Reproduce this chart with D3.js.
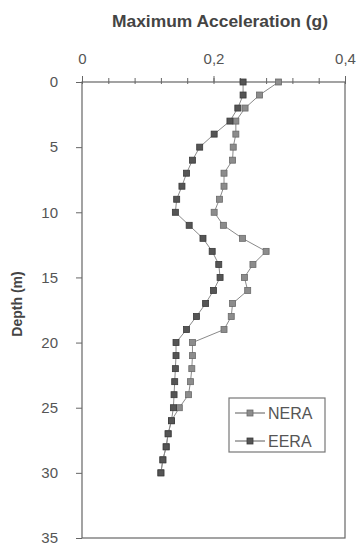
<!DOCTYPE html>
<html>
<head>
<meta charset="utf-8">
<script src="https://cdn.jsdelivr.net/npm/d3@7"></script>
<style>
  html, body { margin: 0; padding: 0; background: #fff; }
  svg { display: block; }
</style>
</head>
<body>
<svg id="chart" width="358" height="550"></svg>
<script>
// Depth profile of peak ground acceleration from two site-response codes
const depths = [0, 1, 2, 3, 4, 5, 6, 7, 8, 9, 10, 11, 12, 13, 14, 15, 16, 17, 18, 19, 20,
                21, 22, 23, 24, 25, 26, 27, 28, 29, 30];
const neraValues = [0.299, 0.270, 0.248, 0.234, 0.234, 0.230, 0.229, 0.216, 0.216, 0.209, 0.201,
                    0.215, 0.244, 0.280, 0.260, 0.247, 0.252, 0.229, 0.227, 0.216, 0.168,
                    0.168, 0.167, 0.165, 0.162, 0.148, 0.136, 0.131, 0.128, 0.123, 0.120];
const eeraValues = [0.245, 0.245, 0.237, 0.225, 0.201, 0.179, 0.168, 0.159, 0.152, 0.144, 0.142,
                    0.163, 0.184, 0.198, 0.208, 0.210, 0.200, 0.188, 0.174, 0.159, 0.143,
                    0.143, 0.142, 0.141, 0.140, 0.139, 0.136, 0.131, 0.128, 0.123, 0.120];
const xTickValues = [0, 0.2, 0.4];
const xTickLabels = ["0", "0,2", "0,4"];
const yTickValues = [0, 5, 10, 15, 20, 25, 30, 35];
const seriesNames = ["NERA", "EERA"];

const svg = d3.select("#chart");
const plotLeft = 82, plotRight = 345, plotTop = 82, plotBottom = 538;

const x = d3.scaleLinear().domain([0, 0.4]).range([plotLeft, plotRight]);
const y = d3.scaleLinear().domain([0, 35]).range([plotTop, plotBottom]);

const axisColor = "#666";
const textColor = "#555";
const font = "Liberation Sans, Arial, sans-serif";

// plot frame
svg.append("rect")
  .attr("x", plotLeft).attr("y", plotTop)
  .attr("width", plotRight - plotLeft).attr("height", plotBottom - plotTop)
  .attr("fill", "none").attr("stroke", axisColor).attr("stroke-width", 1.2);

// top x axis: minor ticks every 0.04, labels at 0, 0.2, 0.4
const xAxis = svg.append("g").attr("transform", `translate(0,${plotTop})`)
  .call(d3.axisTop(x).tickValues(d3.range(0, 0.4001, 0.04)).tickSize(4).tickFormat(""));
xAxis.select(".domain").remove();
xAxis.selectAll("line").attr("stroke", axisColor).attr("y2", -4).attr("y1", 2);

const xLabels = svg.append("g").attr("transform", `translate(0,${plotTop})`)
  .call(d3.axisTop(x).tickValues(xTickValues).tickSize(6).tickPadding(12)
    .tickFormat((d, i) => xTickLabels[i]));
xLabels.select(".domain").remove();
xLabels.selectAll("line").attr("stroke", axisColor);
xLabels.selectAll("text").attr("fill", textColor)
  .style("font-family", font).style("font-size", "15px");

// left y axis
const yAxis = svg.append("g").attr("transform", `translate(${plotLeft},0)`)
  .call(d3.axisLeft(y).tickValues(yTickValues).tickSize(6).tickPadding(18));
yAxis.select(".domain").remove();
yAxis.selectAll("line").attr("stroke", axisColor);
yAxis.selectAll("text").attr("fill", textColor)
  .style("font-family", font).style("font-size", "15px");

// titles
svg.append("text")
  .attr("x", 220).attr("y", 27).attr("text-anchor", "middle")
  .attr("textLength", 216).attr("lengthAdjust", "spacingAndGlyphs")
  .attr("fill", "#444").style("font-family", font).style("font-weight", "bold")
  .style("font-size", "16px").text("Maximum Acceleration (g)");

svg.append("text")
  .attr("transform", `translate(22,${(plotTop + plotBottom) / 2 - 6}) rotate(-90)`)
  .attr("text-anchor", "middle")
  .attr("fill", "#444").style("font-family", font).style("font-weight", "bold")
  .style("font-size", "14px").text("Depth (m)");

// series
const series = [
  { name: seriesNames[0], values: neraValues, fill: "#8c8c8c", stroke: "#6a6a6a" },
  { name: seriesNames[1], values: eeraValues, fill: "#555", stroke: "#3a3a3a" }
];
const line = d3.line().x(d => x(d[0])).y(d => y(d[1]));
const ms = 6;

series.forEach(s => {
  const pts = s.values.map((v, i) => [v, depths[i]]);
  svg.append("path").datum(pts)
    .attr("d", line).attr("fill", "none")
    .attr("stroke", "#8a8a8a").attr("stroke-width", 1);
  svg.append("g").selectAll("rect").data(pts).join("rect")
    .attr("x", d => x(d[0]) - ms / 2).attr("y", d => y(d[1]) - ms / 2)
    .attr("width", ms).attr("height", ms)
    .attr("fill", s.fill).attr("stroke", s.stroke).attr("stroke-width", 0.8);
});

// legend
const lg = svg.append("g");
lg.append("rect").attr("x", 229).attr("y", 398).attr("width", 96).attr("height", 54)
  .attr("fill", "#fff").attr("stroke", "#777").attr("stroke-width", 1.2);
series.forEach((s, i) => {
  const ly = 413 + i * 28;
  lg.append("line").attr("x1", 235).attr("x2", 265).attr("y1", ly).attr("y2", ly)
    .attr("stroke", "#777").attr("stroke-width", 1.2);
  lg.append("rect").attr("x", 250 - ms / 2).attr("y", ly - ms / 2)
    .attr("width", ms).attr("height", ms)
    .attr("fill", s.fill).attr("stroke", s.stroke).attr("stroke-width", 0.8);
  lg.append("text").attr("x", 268).attr("y", ly + 6)
    .attr("fill", textColor).style("font-family", font).style("font-size", "16px")
    .text(s.name);
});
</script>
</body>
</html>
